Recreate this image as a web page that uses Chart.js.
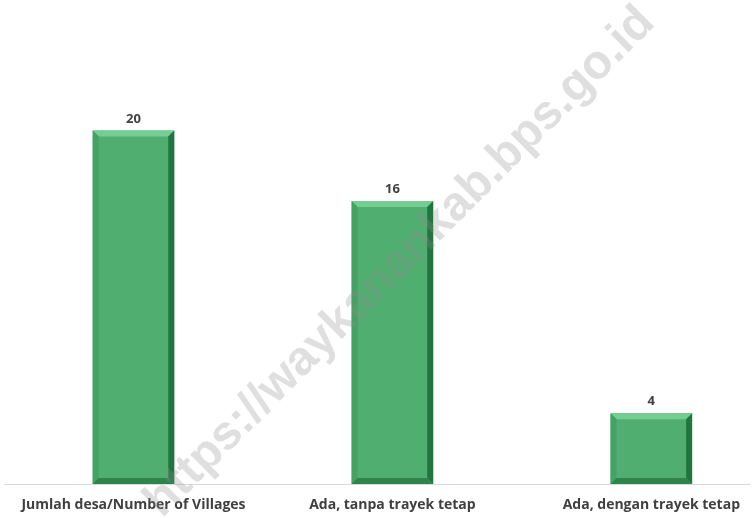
<!DOCTYPE html>
<html>
<head>
<meta charset="utf-8">
<script src="https://cdn.jsdelivr.net/npm/chart.js@4/dist/chart.umd.min.js"></script>
<style>
  html, body { margin: 0; padding: 0; background: #fff; }
  #wrap { width: 753px; height: 518px; position: relative; }
</style>
</head>
<body>
<div id="wrap"><canvas id="myChart"></canvas></div>
<script>
const categories = [
  "Jumlah desa/Number of Villages",
  "Ada, tanpa trayek tetap",
  "Ada, dengan trayek tetap",
];
const villages = [20, 16, 4];

// value labels above each bar
const valueLabels = {
  id: "valueLabels",
  afterDatasetsDraw(chart) {
    const ctx = chart.ctx;
    const meta = chart.getDatasetMeta(0);
    ctx.save();
    ctx.font = "bold 13px 'Open Sans'";
    ctx.fillStyle = "#404040";
    ctx.textAlign = "center";
    ctx.textBaseline = "bottom";
    meta.data.forEach((bar, i) => {
      ctx.fillText(villages[i], bar.x, bar.y - 5);
    });
    ctx.restore();
  },
};

// bevel edges on each bar
const bevel = {
  id: "bevel",
  afterDatasetsDraw(chart) {
    const ctx = chart.ctx;
    const meta = chart.getDatasetMeta(0);
    const b = 6;
    ctx.save();
    meta.data.forEach((bar) => {
      const l = bar.x - bar.width / 2;
      const r = bar.x + bar.width / 2;
      const t = bar.y;
      const btm = bar.base;
      const quad = (pts, color) => {
        ctx.beginPath();
        ctx.moveTo(pts[0][0], pts[0][1]);
        pts.slice(1).forEach((p) => ctx.lineTo(p[0], p[1]));
        ctx.closePath();
        ctx.fillStyle = color;
        ctx.fill();
      };
      quad([[l, t], [r, t], [r - b, t + b], [l + b, t + b]], "#74cd93");
      quad([[l, t], [l + b, t + b], [l + b, btm - b], [l, btm]], "#43a264");
      quad([[r, t], [r, btm], [r - b, btm - b], [r - b, t + b]], "#237540");
      quad([[l, btm], [l + b, btm - b], [r - b, btm - b], [r, btm]], "#2f844c");
    });
    ctx.restore();
  },
};

// diagonal watermark
const watermark = {
  id: "watermark",
  afterDraw(chart) {
    const ctx = chart.ctx;
    ctx.save();
    ctx.translate(400, 262);
    ctx.rotate(-45 * Math.PI / 180);
    ctx.font = "bold 48px 'Liberation Sans'";
    ctx.fillStyle = "rgba(140,140,140,0.28)";
    ctx.textAlign = "center";
    ctx.textBaseline = "middle";
    ctx.fillText("https://waykanankab.bps.go.id", 0, 0);
    ctx.restore();
  },
};

new Chart(document.getElementById("myChart"), {
  type: "bar",
  data: {
    datasets: [
      {
        data: villages.map((v, i) => ({ x: i, y: v })),
        backgroundColor: "#50ae71",
        borderWidth: 0,
        barPercentage: 0.315,
        categoryPercentage: 1,
      },
    ],
  },
  plugins: [bevel, valueLabels, watermark],
  options: {
    responsive: true,
    maintainAspectRatio: false,
    animation: false,
    layout: { padding: { top: 42, left: 4, right: 0, bottom: 0 } },
    scales: {
      x: {
        type: "linear",
        offset: false,
        min: -0.5,
        max: 2.38,
        grid: { display: false, drawTicks: false },
        border: { display: true, color: "#d9d9d9", width: 1 },
        afterBuildTicks: (axis) => {
          axis.ticks = categories.map((c, i) => ({ value: i }));
        },
        afterFit: (axis) => {
          axis.height = 34;
        },
        ticks: {
          autoSkip: false,
          maxRotation: 0,
          padding: 13,
          color: "#404040",
          font: { family: "'Open Sans'", size: 14, weight: "bold" },
          callback: (v) => categories[v],
        },
      },
      y: {
        display: false,
        min: 0,
        max: 25,
      },
    },
    plugins: {
      legend: { display: false },
      tooltip: { enabled: false },
    },
  },
});
</script>
</body>
</html>
